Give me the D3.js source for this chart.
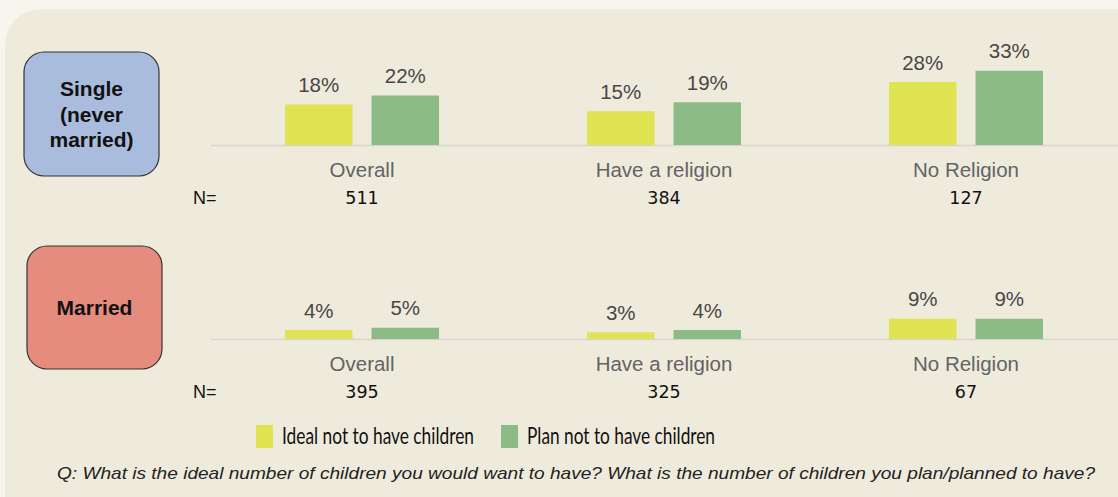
<!DOCTYPE html>
<html>
<head>
<meta charset="utf-8">
<script src="https://cdn.jsdelivr.net/npm/d3@7"></script>
<style>
  html, body { margin: 0; padding: 0; background: #f6f5ee; }
  svg { display: block; }
</style>
</head>
<body>
<svg id="chart" width="1118" height="497"></svg>
<script>
// Groups along the x axis
const categories = ["Overall", "Have a religion", "No Religion"];
const seriesNames = ["Ideal not to have children", "Plan not to have children"];

// Single (never married): % who say ideal / plan is no children
const singleIdeal = [18, 15, 28];
const singlePlan  = [22, 19, 33];
const singleN     = [511, 384, 127];

// Married
const marriedIdeal = [4, 3, 9];
const marriedPlan  = [5, 4, 9];
const marriedN     = [395, 325, 67];

const panels = [
  { label: ["Single", "(never", "married)"], ideal: singleIdeal, plan: singlePlan, n: singleN,
    boxFill: "#a9bcdd", base: 145, box: [24, 52, 135, 124] },
  { label: ["Married"], ideal: marriedIdeal, plan: marriedPlan, n: marriedN,
    boxFill: "#e68c7e", base: 339, box: [27, 246, 135, 123] }
];

const colors = ["#e0e352", "#8dbb86"];
const question = "Q: What is the ideal number of children you would want to have? What is the number of children you plan/planned to have?";

const svg = d3.select("#chart");

// Background card
svg.append("rect")
  .attr("x", 5).attr("y", 9).attr("width", 1150).attr("height", 540)
  .attr("rx", 36).attr("fill", "#efebdc");

const x0 = d3.scaleBand().domain(categories).range([211, 1117]).padding(0);
const x1 = d3.scaleBand().domain(seriesNames).range([0, 154]).paddingInner(0.22);
const groupOffset = (x0.bandwidth() - 154) / 2;
const hScale = d3.scaleLinear().domain([0, 10]).range([0, 22.5]);

panels.forEach(p => {
  const g = svg.append("g");

  // Row header box
  g.append("rect")
    .attr("x", p.box[0]).attr("y", p.box[1])
    .attr("width", p.box[2]).attr("height", p.box[3])
    .attr("rx", 20)
    .attr("fill", p.boxFill).attr("stroke", "#333").attr("stroke-width", 1.2);
  const cy = p.box[1] + p.box[3] / 2;
  const lh = 25.5;
  g.selectAll("text.hdr").data(p.label).join("text")
    .attr("x", p.box[0] + p.box[2] / 2)
    .attr("y", (d, i) => cy + (i - (p.label.length - 1) / 2) * lh + 7.5)
    .attr("text-anchor", "middle")
    .attr("font-family", "Liberation Sans, Arial, sans-serif")
    .attr("font-weight", "bold").attr("font-size", 21).attr("fill", "#111")
    .text(d => d);

  // Baseline
  g.append("line")
    .attr("x1", 211).attr("x2", 1118)
    .attr("y1", p.base + 0.5).attr("y2", p.base + 0.5)
    .attr("stroke", "#d6d4cb").attr("stroke-width", 1.5);

  const rows = categories.map((c, i) => ({
    cat: c, n: p.n[i],
    vals: [{ s: seriesNames[0], v: p.ideal[i] }, { s: seriesNames[1], v: p.plan[i] }]
  }));

  const grp = g.selectAll("g.grp").data(rows).join("g")
    .attr("transform", d => `translate(${x0(d.cat) + groupOffset},0)`);

  grp.selectAll("rect").data(d => d.vals).join("rect")
    .attr("x", d => x1(d.s))
    .attr("width", x1.bandwidth())
    .attr("y", d => p.base - hScale(d.v))
    .attr("height", d => hScale(d.v))
    .attr("fill", (d, i) => colors[i]);

  grp.selectAll("text.val").data(d => d.vals).join("text")
    .attr("class", "val")
    .attr("x", d => x1(d.s) + x1.bandwidth() / 2)
    .attr("y", d => p.base - hScale(d.v) - 12.5)
    .attr("text-anchor", "middle")
    .attr("font-family", "Liberation Sans, Arial, sans-serif")
    .attr("font-size", 20.5).attr("fill", "#474747")
    .text(d => d.v + "%");

  // Category labels
  grp.append("text")
    .attr("x", 77).attr("y", p.base + 32)
    .attr("text-anchor", "middle")
    .attr("font-family", "Liberation Sans, Arial, sans-serif")
    .attr("font-size", 20.5).attr("fill", "#636363")
    .text(d => d.cat);

  // Sample sizes
  grp.append("text")
    .attr("x", 77).attr("y", p.base + 59)
    .attr("text-anchor", "middle")
    .attr("font-family", "DejaVu Sans, sans-serif")
    .attr("font-size", 17.5).attr("fill", "#111")
    .text(d => d.n);

  g.append("text")
    .attr("x", 193).attr("y", p.base + 59)
    .attr("font-family", "Liberation Sans, Arial, sans-serif")
    .attr("font-size", 18).attr("fill", "#111")
    .text("N=");
});

// Legend
const legendX = [256, 501];
const legendW = [192, 188];
const leg = svg.selectAll("g.leg").data(seriesNames).join("g")
  .attr("transform", (d, i) => `translate(${legendX[i]},425)`);
leg.append("rect").attr("width", 17).attr("height", 23).attr("fill", (d, i) => colors[i]);
leg.append("text")
  .attr("x", 26).attr("y", 18.5)
  .attr("font-family", "Lato, sans-serif")
  .attr("font-size", 23).attr("fill", "#111")
  .attr("textLength", (d, i) => legendW[i])
  .attr("lengthAdjust", "spacingAndGlyphs")
  .text(d => d);

// Survey question note
svg.append("text")
  .attr("x", 57).attr("y", 479)
  .attr("font-family", "Liberation Sans, Arial, sans-serif")
  .attr("font-style", "italic")
  .attr("font-size", 16.5).attr("fill", "#222")
  .attr("textLength", 1038)
  .attr("lengthAdjust", "spacingAndGlyphs")
  .text(question);
</script>
</body>
</html>
